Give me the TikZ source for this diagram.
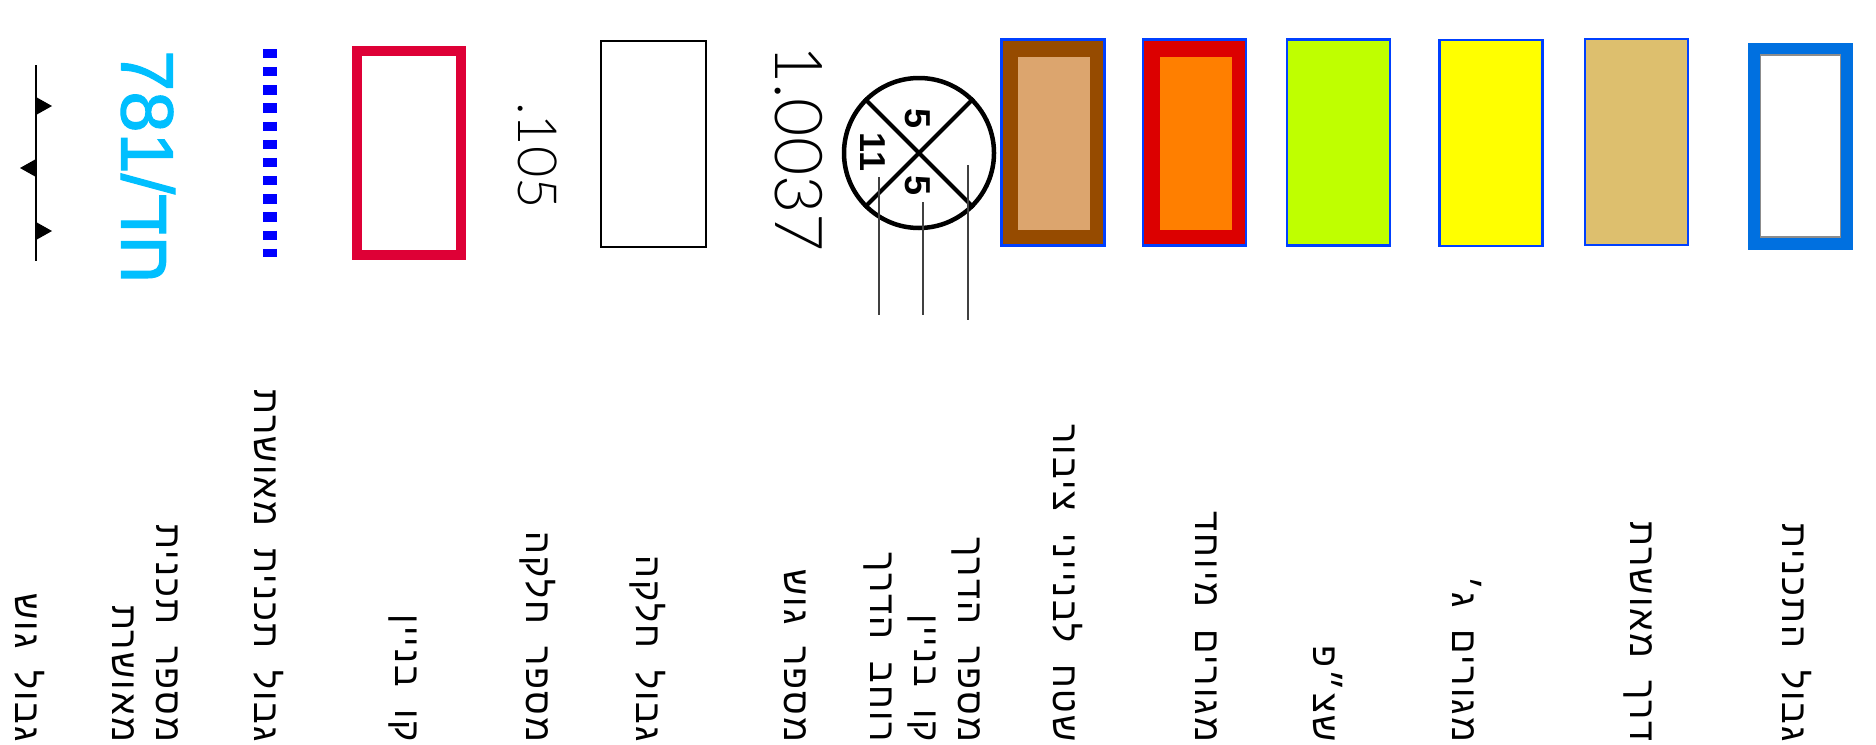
\documentclass[tikz,border=0pt]{standalone}
\usepackage{fontspec}
\usepackage{xcolor}
\usepackage{tikz}
\usetikzlibrary{positioning,calc}
\TeXXeTstate=1
\setmainfont{Liberation Sans}
\newfontfamily\hebfont[Script=Hebrew,LetterSpace=6,WordSpace=1.8]{Liberation Sans}
\newfontfamily\cyanfont[Script=Hebrew,FakeBold=1.5]{Liberation Sans}
\newfontfamily\thinfont{Lato Light}
\newcommand{\heb}[1]{\beginR #1\endR}
\definecolor{edgeblue}{HTML}{0040FF}
\definecolor{frameblue}{HTML}{0070E0}
\definecolor{cyanlab}{HTML}{00BFFF}
\definecolor{limit}{HTML}{DE0036}
\definecolor{brownout}{HTML}{964B00}
\definecolor{brownin}{HTML}{DCA56E}
\definecolor{redout}{HTML}{DC0000}
\definecolor{redin}{HTML}{FF7F00}
\definecolor{lime}{HTML}{BFFF00}
\definecolor{lemon}{HTML}{FFFF00}
\definecolor{sand}{HTML}{DDBF6E}

\begin{document}
\begin{tikzpicture}[x=1pt,y=-1pt,
  sw/.style={draw=edgeblue,line width=2.5pt,minimum width=103pt,minimum height=206pt,inner sep=0pt},
  inn/.style={draw=none,minimum width=72pt,minimum height=173pt,inner sep=0pt},
  lb/.style={rotate=-90,anchor=east,inner sep=0pt,align=right,font=\hebfont\fontsize{36}{44}\selectfont},
  ld/.style={draw=black!75,line width=1.4pt},
  dg/.style={line width=4pt},
  nm/.style={rotate=-90,inner sep=0pt,font=\bfseries\fontsize{36}{36}\selectfont},
  tk/.style={fill=black}]
  \useasboundingbox (0,0) rectangle (1876,744);
  % swatches
  \node[sw,fill=brownout] (brown) at (1053,142.5) {};
  \node[inn,fill=brownin] (browni) at (1054,143.5) {};
  \node[sw,fill=redout] (red) at (1194.5,142.5) {};
  \node[inn,fill=redin] (redi) at (1195.5,143.5) {};
  \node[sw,fill=lime] (green) at (1338.5,142.5) {};
  \node[sw,fill=lemon] (yel) at (1491,143) {};
  \node[sw,fill=sand] (tan) at (1636.5,142) {};
  \node[draw=frameblue,line width=13pt,minimum width=92pt,minimum height=194pt,inner sep=0pt] (plan) at (1800.5,146) {};
  \node[draw=black!45,line width=1.5pt,minimum width=80pt,minimum height=182pt,inner sep=0pt] (plani) at (plan.center) {};
  \node[draw=black,line width=1.5pt,minimum width=105pt,minimum height=206pt,inner sep=0pt] (parcel) at (653.5,144) {};
  \node[draw=limit,line width=9.5pt,minimum width=104pt,minimum height=204pt,inner sep=0pt] (bline) at (409,153) {};
  % road circle
  \node[circle,draw,line width=4.5pt,minimum size=150pt,inner sep=0pt] (road) at (919,153) {};
  \draw[dg] (road.135) -- (road.-45);
  \draw[dg] (road.45) -- (road.-135);
  \node[nm] (wn) at (918,119) {5};
  \node[nm] (wl) at (873,152) {11};
  \node[nm] (wr) at (918,186) {5};
  \coordinate (a1) at (879,177); \coordinate (a2) at (879,315);
  \coordinate (b1) at (923,202); \coordinate (b2) at (923,315);
  \coordinate (c1) at (968,165); \coordinate (c2) at (968,320);
  \draw[ld] (a1) -- (a2);
  \draw[ld] (b1) -- (b2);
  \draw[ld] (c1) -- (c2);
  % numbers
  \node[rotate=-90,anchor=west,inner sep=0pt,font=\thinfont\fontsize{66}{66}\selectfont] (gush) at (799,45) {1.0037};
  \node[rotate=-90,anchor=west,inner sep=0pt,font=\thinfont\fontsize{54}{54}\selectfont] (hel) at (538,102) {.105};
  \node[rotate=-90,anchor=west,inner sep=0pt,text=cyanlab,font=\cyanfont\fontsize{74}{74}\selectfont] (plannum) at (148,50) {\beginR חד/\beginL 781\endL\endR};
  \draw[blue,line width=14pt,dash pattern=on 9.3pt off 8.85pt] (270,49) -- (270,257);
  % gush border
  \coordinate (gt) at (36,65); \coordinate (gb) at (36,261);
  \draw[line width=2pt] (gt) -- (gb);
  \fill[tk] (36,97) -- (52,106) -- (36,115) -- cycle;
  \fill[tk] (36,159) -- (20,168) -- (36,177) -- cycle;
  \fill[tk] (36,222) -- (52,231) -- (36,240) -- cycle;
  % labels
  \node[lb] (t1) at (1797,742) {\heb{גבול התכנית}};
  \node[lb] (t2) at (1638,742) {\heb{דרך מאושרת}};
  \node[lb] (t3) at (1467,742) {\heb{מגורים ג׳}};
  \node[lb] (t4) at (1328,742) {\heb{שצ״פ}};
  \node[lb] (t5) at (1206,742) {\heb{מגורים מיוחד}};
  \node[lb] (t6) at (1068,742) {\heb{שטח לבנייני ציבור}};
  \node[lb] (t7) at (922,742) {\heb{מספר הדרך}\\\heb{קו בניין}\\\heb{רוחב הדרך}};
  \node[lb] (t8) at (795,742) {\heb{מספר גוש}};
  \node[lb] (t9) at (648,742) {\heb{גבול חלקה}};
  \node[lb] (t10) at (538,742) {\heb{מספר חלקה}};
  \node[lb] (t11) at (403,742) {\heb{קו בניין}};
  \node[lb] (t12) at (269,742) {\heb{גבול תכנית מאושרת}};
  \node[lb] (t13) at (145,742) {\heb{מספר תכנית}\\\heb{מאושרת}};
  \node[lb] (t14) at (30,742) {\heb{גבול גוש}};
\end{tikzpicture}
\end{document}
